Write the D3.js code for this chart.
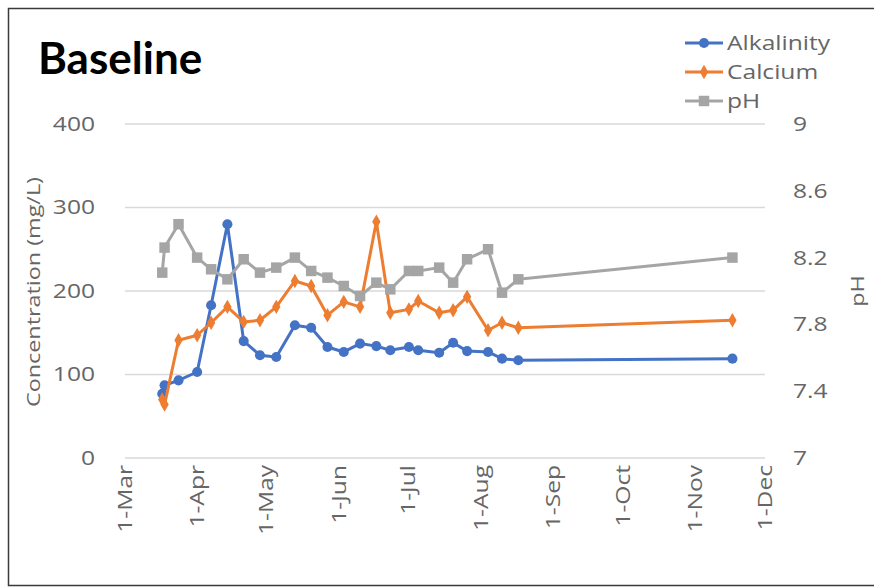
<!DOCTYPE html>
<html>
<head>
<meta charset="utf-8">
<script src="https://cdn.jsdelivr.net/npm/d3@7"></script>
<style>
  body { margin: 0; background: #fff; }
  text { font-family: "Open Sans", sans-serif; }
</style>
</head>
<body>
<svg id="chart" width="874" height="588"></svg>
<script>
// sample dates (year assumed)
var dates = ["2019-03-17", "2019-03-18", "2019-03-24", "2019-04-01", "2019-04-07", "2019-04-14",
  "2019-04-21", "2019-04-28", "2019-05-05", "2019-05-13", "2019-05-20", "2019-05-27",
  "2019-06-03", "2019-06-10", "2019-06-17", "2019-06-23", "2019-07-01", "2019-07-05",
  "2019-07-14", "2019-07-20", "2019-07-26", "2019-08-04", "2019-08-10", "2019-08-17",
  "2019-11-17"];

var alkalinity = [77, 87, 93, 103, 183, 280, 140, 123, 121, 159, 156, 133,
  127, 137, 134, 129, 133, 129, 126, 138, 128, 127, 119, 117, 119];

var calcium = [70, 64, 141, 147, 162, 181, 163, 165, 181, 212, 206, 171,
  187, 181, 283, 174, 178, 188, 174, 177, 193, 153, 162, 156, 165];

var ph = [8.11, 8.26, 8.40, 8.20, 8.13, 8.07, 8.19, 8.11, 8.14, 8.20, 8.12, 8.08,
  8.03, 7.97, 8.05, 8.01, 8.12, 8.12, 8.14, 8.05, 8.19, 8.25, 7.99, 8.07, 8.20];

var concTicks = [0, 100, 200, 300, 400];
var phTicks = [7, 7.4, 7.8, 8.2, 8.6, 9];
var monthTicks = ["2019-03-01", "2019-04-01", "2019-05-01", "2019-06-01", "2019-07-01",
  "2019-08-01", "2019-09-01", "2019-10-01", "2019-11-01", "2019-12-01"];

var seriesNames = ["Alkalinity", "Calcium", "pH"];
var seriesColors = ["#4472C4", "#ED7D31", "#A5A5A5"];

var svg = d3.select("#chart");
var parse = d3.timeParse("%Y-%m-%d");
var days = dates.map(parse);

// plot box
var plotLeft = 125, plotRight = 765, plotTop = 124, plotBottom = 458;
var labelGray = "#666666";
var stretch = "scale(1.23,1)"; // reference font runs wider than Open Sans

var x = d3.scaleTime()
    .domain([parse(monthTicks[0]), parse(monthTicks[monthTicks.length - 1])])
    .range([plotLeft, plotRight]);
var yConc = d3.scaleLinear().domain([0, 400]).range([plotBottom, plotTop]);
var yPh = d3.scaleLinear().domain([7, 9]).range([plotBottom, plotTop]);

// outer border
svg.append("rect")
    .attr("x", 8.5).attr("y", 8.5)
    .attr("width", 900).attr("height", 577)
    .attr("fill", "none")
    .attr("stroke", "#3a3a3a")
    .attr("stroke-width", 1.5);

// gridlines
svg.append("g")
    .selectAll("line")
    .data(concTicks)
    .enter()
    .append("line")
    .attr("x1", plotLeft).attr("x2", plotRight)
    .attr("y1", d => yConc(d)).attr("y2", d => yConc(d))
    .attr("stroke", "#d9d9d9")
    .attr("stroke-width", 1.5);

// left axis
var leftAxis = svg.append("g")
    .attr("transform", "translate(" + (plotLeft - 30) + ",0)")
    .call(d3.axisLeft(yConc).tickValues(concTicks).tickSize(0).tickPadding(0));
leftAxis.select(".domain").remove();
leftAxis.selectAll("text")
    .attr("fill", labelGray)
    .attr("transform", stretch)
    .style("font-size", "20px");

// right axis
var rightAxis = svg.append("g")
    .attr("transform", "translate(" + (plotRight + 28) + ",0)")
    .call(d3.axisRight(yPh).tickValues(phTicks).tickSize(0).tickPadding(0)
      .tickFormat(d3.format("~g")));
rightAxis.select(".domain").remove();
rightAxis.selectAll("text")
    .attr("fill", labelGray)
    .attr("transform", stretch)
    .style("font-size", "20px");

// bottom axis, labels rotated
var bottomAxis = svg.append("g")
    .attr("transform", "translate(0," + plotBottom + ")")
    .call(d3.axisBottom(x).tickValues(monthTicks.map(parse)).tickSize(0)
      .tickFormat(d3.timeFormat("1-%b")));
bottomAxis.select(".domain").remove();
bottomAxis.selectAll("text")
    .attr("fill", labelGray)
    .style("font-size", "20px")
    .attr("text-anchor", "end")
    .attr("dy", "0.35em")
    .attr("transform", "translate(-1,7) rotate(-90) " + stretch)
    .attr("x", 0).attr("y", 0);

// axis titles
svg.append("text")
    .attr("transform", "translate(33,292) rotate(-90) " + stretch)
    .attr("text-anchor", "middle")
    .attr("dy", "0.35em")
    .attr("fill", labelGray)
    .style("font-size", "19px")
    .text("Concentration (mg/L)");

svg.append("text")
    .attr("transform", "translate(857,291) rotate(-90) " + stretch)
    .attr("text-anchor", "middle")
    .attr("dy", "0.35em")
    .attr("fill", labelGray)
    .style("font-size", "19px")
    .text("pH");

// chart title
svg.append("text")
    .attr("x", 38).attr("y", 74)
    .attr("fill", "#000")
    .style("font-family", "Lato, sans-serif")
    .style("font-weight", "bold")
    .style("font-size", "44px")
    .text("Baseline");

// series
var series = [
  { name: seriesNames[0], values: alkalinity, y: yConc, color: seriesColors[0], symbol: d3.symbolCircle, size: 80 },
  { name: seriesNames[1], values: calcium, y: yConc, color: seriesColors[1], symbol: d3.symbolDiamond, size: 60 },
  { name: seriesNames[2], values: ph, y: yPh, color: seriesColors[2], symbol: d3.symbolSquare, size: 110 }
];

series.forEach(function(s) {
  var pts = days.map((d, i) => [x(d), s.y(s.values[i])]);
  svg.append("path")
      .datum(pts)
      .attr("fill", "none")
      .attr("stroke", s.color)
      .attr("stroke-width", 3)
      .attr("stroke-linejoin", "round")
      .attr("d", d3.line());
  svg.append("g")
      .selectAll("path")
      .data(pts)
      .enter()
      .append("path")
      .attr("transform", d => "translate(" + d[0] + "," + d[1] + ")")
      .attr("d", d3.symbol().type(s.symbol).size(s.size))
      .attr("fill", s.color);
});

// legend
var legend = svg.append("g");
series.forEach(function(s, i) {
  var ly = 43 + i * 29;
  legend.append("line")
      .attr("x1", 685).attr("x2", 723)
      .attr("y1", ly).attr("y2", ly)
      .attr("stroke", s.color)
      .attr("stroke-width", 3);
  legend.append("path")
      .attr("transform", "translate(704," + ly + ")")
      .attr("d", d3.symbol().type(s.symbol).size(s.size))
      .attr("fill", s.color);
  legend.append("text")
      .attr("transform", "translate(727," + ly + ") " + stretch)
      .attr("dy", "0.35em")
      .attr("fill", labelGray)
      .style("font-size", "20px")
      .text(s.name);
});
</script>
</body>
</html>
